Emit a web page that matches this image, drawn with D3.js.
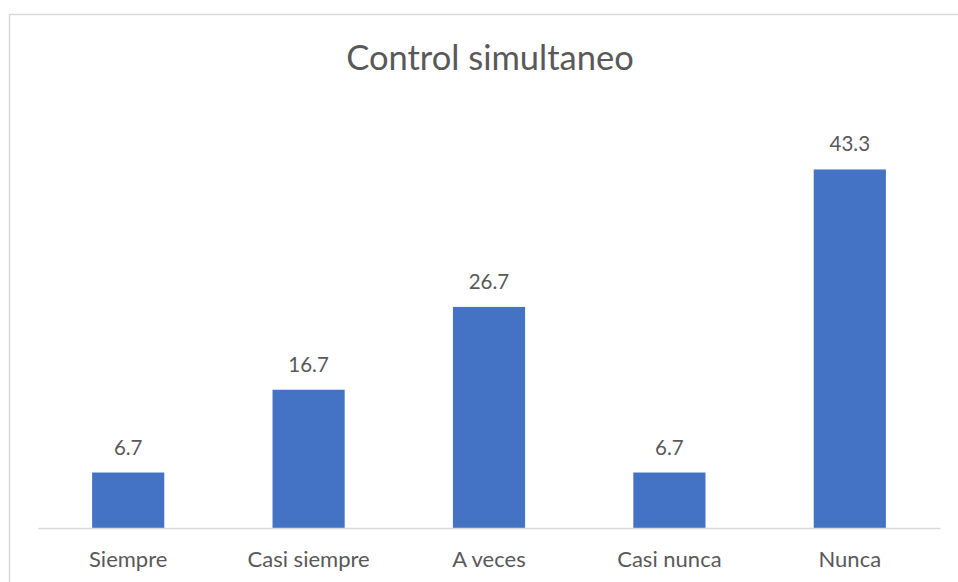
<!DOCTYPE html>
<meta charset="utf-8">
<style>
body { margin: 0; background: #fff; }
text { font-family: Lato, "Open Sans", sans-serif; fill: #595959; }
</style>
<body>
<script src="https://d3js.org/d3.v7.min.js"></script>
<script>
// data
var categories = ["Siempre", "Casi siempre", "A veces", "Casi nunca", "Nunca"];
var values = [6.7, 16.7, 26.7, 6.7, 43.3];
var titleText = "Control simultaneo";

var W = 958, H = 582;
var margin = {top: 113, left: 38, right: 18, bottom: 54};
var baseY = 528;

var svg = d3.select("body").append("svg")
    .attr("width", W)
    .attr("height", H);

// chart frame
svg.append("rect")
    .attr("x", 9.5).attr("y", 14.5)
    .attr("width", W + 10).attr("height", H + 10)
    .attr("fill", "none")
    .attr("stroke", "#d9d9d9")
    .attr("stroke-width", 1.5);

var x = d3.scaleBand()
    .domain(categories)
    .range([margin.left, 940])
    .paddingInner(0.6)
    .paddingOuter(0.3);

var y = d3.scaleLinear()
    .domain([0, 50])
    .range([baseY, baseY - 414]);

// title
svg.append("text")
    .attr("x", 490).attr("y", 70)
    .attr("text-anchor", "middle")
    .style("font-size", "34.5px")
    .text(titleText);

// bars
svg.selectAll(".bar")
    .data(values)
  .enter().append("rect")
    .attr("class", "bar")
    .attr("x", function(d, i) { return x(categories[i]); })
    .attr("width", x.bandwidth())
    .attr("y", function(d) { return y(d); })
    .attr("height", function(d) { return y(0) - y(d); })
    .attr("fill", "#4472c4");

// value labels
svg.selectAll(".lbl")
    .data(values)
  .enter().append("text")
    .attr("class", "lbl")
    .attr("x", function(d, i) { return x(categories[i]) + x.bandwidth() / 2; })
    .attr("y", function(d) { return y(d) - 18; })
    .attr("text-anchor", "middle")
    .style("font-size", "20.5px")
    .text(function(d) { return d.toFixed(1); });

// x axis
var xAxis = svg.append("g")
    .attr("transform", "translate(0," + baseY + ")")
    .call(d3.axisBottom(x).tickSize(0).tickPadding(23));
xAxis.select(".domain").attr("stroke", "#d9d9d9").attr("stroke-width", 1.5);
xAxis.selectAll("text")
    .style("font-size", "22px")
    .style("font-family", "Lato, 'Open Sans', sans-serif")
    .attr("fill", "#595959");
</script>
</body>
